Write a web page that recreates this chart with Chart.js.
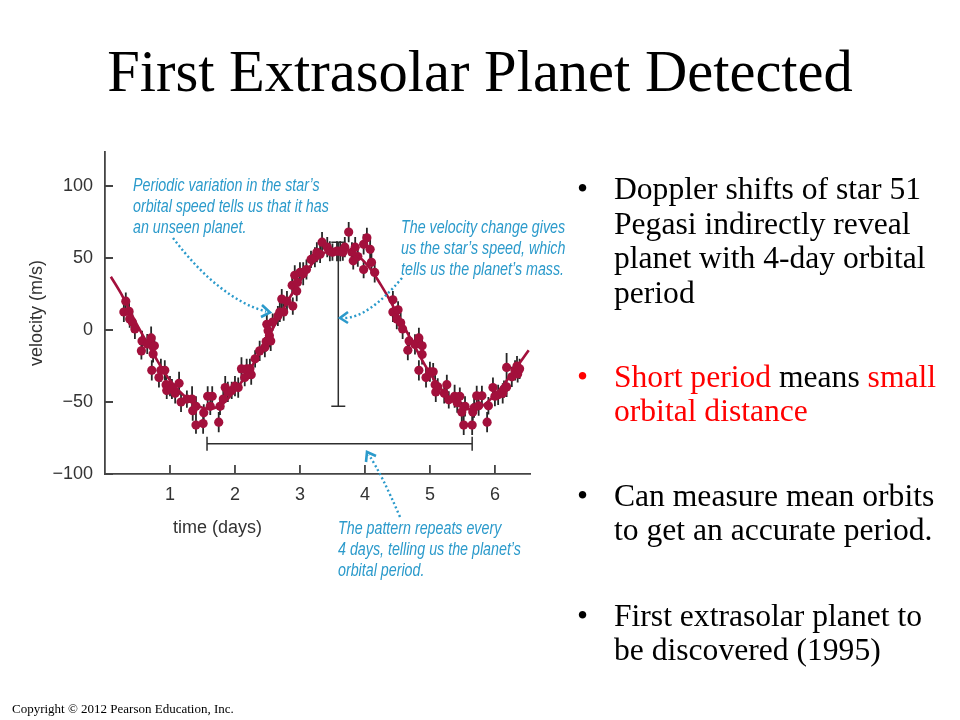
<!DOCTYPE html>
<html>
<head>
<meta charset="utf-8">
<script src="https://cdn.jsdelivr.net/npm/chart.js@4/dist/chart.umd.min.js"></script>
<style>
html,body{margin:0;padding:0;background:#fff;width:960px;height:720px;overflow:hidden;}
#wrap{position:relative;width:960px;height:720px;}
#c{position:absolute;left:0;top:0;}
#arrows{position:absolute;left:0;top:0;pointer-events:none;}
.t{position:absolute;white-space:nowrap;margin:0;}
#title{left:0;width:960px;top:43px;text-align:center;font-family:"Liberation Serif","Times New Roman",serif;font-size:58.5px;line-height:58px;color:#000;}
.bul{font-family:"Liberation Serif","Times New Roman",serif;font-size:31.6px;line-height:34.5px;color:#000;}
.red{color:#ff0000;}
.note{font-family:"Liberation Sans",Arial,sans-serif;font-style:italic;font-size:17.5px;line-height:21px;color:#2b9acb;transform:scaleX(0.815);transform-origin:0 0;}
#xt{font-family:"Liberation Sans",Arial,sans-serif;font-size:18px;line-height:20px;color:#333;}
#copy{left:12px;top:702px;font-family:"Liberation Serif","Times New Roman",serif;font-size:13px;line-height:13px;color:#000;}
</style>
</head>
<body>
<div id="wrap">
<canvas id="c" width="960" height="720"></canvas>
<svg id="arrows" width="960" height="720" viewBox="0 0 960 720">
  <g fill="none" stroke="#2b9acb" stroke-width="2.4">
    <path d="M173,238 Q219.5,299 266,311.5" stroke-dasharray="2 2.6"/>
    <path d="M402,278 Q368,318 344,318" stroke-dasharray="2 2.6"/>
    <path d="M400,517 Q382,475 369,455" stroke-dasharray="2 2.6"/>
    <path d="M262,305 L270,312.5 L261,317" stroke-width="2.6"/>
    <path d="M348,312 L340,318 L348,323" stroke-width="2.6"/>
    <path d="M366,462 L367,452 L376,456" stroke-width="2.6"/>
  </g>
</svg>

<div class="t" id="title">First Extrasolar Planet Detected</div>

<div class="t note" style="left:133px;top:174.5px;">Periodic variation in the star’s<br>orbital speed tells us that it has<br>an unseen planet.</div>
<div class="t note" style="left:401px;top:216.5px;">The velocity change gives<br>us the star’s speed, which<br>tells us the planet’s mass.</div>
<div class="t note" style="left:338px;top:517.5px;">The pattern repeats every<br>4 days, telling us the planet’s<br>orbital period.</div>
<div class="t" id="xt" style="left:173px;top:517px;">time (days)</div>

<div class="t bul" style="left:577px;top:172.4px;">•</div>
<div class="t bul" style="left:614px;top:172.4px;">Doppler shifts of star 51<br>Pegasi indirectly reveal<br>planet with 4-day orbital<br>period</div>

<div class="t bul red" style="left:577px;top:359.7px;">•</div>
<div class="t bul" style="left:614px;top:359.7px;"><span class="red">Short period</span> means <span class="red">small</span><br><span class="red">orbital distance</span></div>

<div class="t bul" style="left:577px;top:478.7px;">•</div>
<div class="t bul" style="left:614px;top:478.7px;">Can measure mean orbits<br>to get an accurate period.</div>

<div class="t bul" style="left:577px;top:598.7px;">•</div>
<div class="t bul" style="left:614px;top:598.7px;">First extrasolar planet to<br>be discovered (1995)</div>

<div class="t" id="copy">Copyright © 2012 Pearson Education, Inc.</div>
</div>

<script>
// ---- data ----
const times = [
  0.29,0.32,0.37,0.38,0.42,0.46,0.56,0.57,0.65,0.71,
  0.72,0.74,0.76,0.83,0.86,0.92,0.94,0.95,1.00,1.03,
  1.08,1.14,1.17,1.26,1.34,1.35,1.40,1.40,1.51,1.52,
  1.58,1.62,1.65,1.75,1.77,1.82,1.85,1.89,1.95,2.00,
  2.05,2.10,2.15,2.18,2.23,2.25,2.31,2.38,2.46,2.48,
  2.49,2.51,2.53,2.55,2.58,2.66,2.69,2.72,2.75,2.80,
  2.88,2.89,2.92,2.95,2.96,3.00,3.05,3.10,3.17,3.23,
  3.26,3.31,3.34,3.42,3.46,3.50,3.57,3.62,3.66,3.69,
  3.75,3.80,3.82,3.85,3.89,3.98,3.98,4.03,4.08,4.10,
  4.15,4.43,4.43,4.49,4.51,4.55,4.58,4.66,4.68,4.77,
  4.83,4.83,4.88,4.88,4.94,5.00,5.05,5.08,5.09,5.12,
  5.22,5.26,5.29,5.38,5.42,5.46,5.49,5.52,5.54,5.65,
  5.66,5.68,5.72,5.75,5.80,5.88,5.90,5.97,6.00,6.05,
  6.12,6.14,6.18,6.18,6.26,6.31,6.34,6.35,6.38
];
const velocity = [
  12.5,20,13,7.6,5.5,0.7,-14.5,-7.6,-9.7,-5.5,
  -28,-16.6,-11,-33,-28,-28,-38,-42,-39,-41,
  -44,-37,-50,-48,-48,-56,-53,-66,-65,-57.5,
  -46,-53,-46,-64,-53,-48,-40,-43,-42,-39,
  -40,-27,-33,-27,-27,-31,-20,-14.5,-12,-8,
  4,-0.5,-4,-7.6,5.5,9.7,12.5,21.5,12.5,20,
  31,16.6,38,27,33,40,39,42,49,50.5,
  54,52.6,61,57.5,54.7,54,54.7,54.7,54,57.5,
  68,54,48,57.5,51,59.5,42,64,56,47,
  40,21,12.5,7.6,14,5,0.7,-14,-7.6,-10,
  -5.5,-28,-11,-17,-33,-29,-29,-38,-43,-39.5,
  -44,-38,-48.5,-46,-50.5,-46,-57,-66,-53,-66,
  -57,-54,-45.7,-52.6,-45.7,-64,-52.6,-40,-46,-45,
  -44,-41,-39.5,-26,-32.5,-28,-25,-30.5,-27
];
const velError = [
  7,6,7,6,7,7,6,7,7,8,
  7,6,7,7,8,7,7,6,7,7,
  7,8,7,6,9,7,7,6,7,6,
  7,6,7,7,6,7,8,7,6,7,
  7,8,6,7,7,7,6,7,7,7,
  7,6,8,7,6,7,7,7,6,7,
  7,6,7,7,6,7,8,7,6,7,
  7,6,7,7,7,6,7,7,6,7,
  7,7,6,7,7,7,6,7,7,8,
  7,6,7,7,6,7,7,7,6,7,
  7,7,6,7,7,7,6,7,7,6,
  7,7,6,8,7,6,7,7,7,7,
  6,7,7,7,7,7,6,7,7,7,
  7,6,7,10,7,7,7,6,7
];
// fitted orbit curve
const fitTimes = [0.09,0.25,0.5,0.75,1.0,1.25,1.5,1.75,2.0,2.25,2.5,2.75,3.0,3.25,3.5,3.75,4.0,4.25,4.5,4.75,5.0,5.25,5.5,5.75,6.0,6.25,6.52];
const fitVelocity = [37,25,3,-17,-35,-47,-54,-53,-42,-26,-6,15,34,49,56,55,47,31,11,-10,-30,-45,-54,-54,-45,-31,-14];
const xTickValues = [1,2,3,4,5,6];
const yTickValues = [-100,-50,0,50,100];
// annotation marks (data units)
const amplitudeBar = {t:3.59, low:-53, high:61};
const periodBar = {v:-79, start:1.57, end:5.65};

const RED = '#a3103c';

const marks = {
  id:'marks',
  beforeDatasetsDraw(chart){
    const {ctx, scales:{x, y}} = chart;
    ctx.save();
    ctx.strokeStyle = '#2e2e2e';
    ctx.lineWidth = 1.5;
    const by = y.getPixelForValue(periodBar.v);
    const bx1 = x.getPixelForValue(periodBar.start), bx2 = x.getPixelForValue(periodBar.end);
    ctx.beginPath();
    ctx.moveTo(bx1, by); ctx.lineTo(bx2, by);
    ctx.moveTo(bx1, by-7); ctx.lineTo(bx1, by+7);
    ctx.moveTo(bx2, by-7); ctx.lineTo(bx2, by+7);
    ctx.stroke();
    const ax = x.getPixelForValue(amplitudeBar.t);
    const ay1 = y.getPixelForValue(amplitudeBar.high), ay2 = y.getPixelForValue(amplitudeBar.low);
    ctx.beginPath();
    ctx.moveTo(ax, ay1); ctx.lineTo(ax, ay2);
    ctx.moveTo(ax-7, ay1); ctx.lineTo(ax+7, ay1);
    ctx.moveTo(ax-7, ay2); ctx.lineTo(ax+7, ay2);
    ctx.stroke();
    ctx.strokeStyle = '#262626';
    ctx.lineWidth = 1.8;
    ctx.beginPath();
    for (let i = 0; i < times.length; i++) {
      const px = x.getPixelForValue(times[i]);
      ctx.moveTo(px, y.getPixelForValue(velocity[i] + velError[i]));
      ctx.lineTo(px, y.getPixelForValue(velocity[i] - velError[i]));
    }
    ctx.stroke();
    ctx.restore();
  },
  afterDraw(chart){
    const {ctx, chartArea, scales:{x, y}} = chart;
    ctx.save();
    ctx.strokeStyle = '#444';
    ctx.lineWidth = 1.8;
    ctx.beginPath();
    yTickValues.forEach(v => {
      const py = y.getPixelForValue(v);
      ctx.moveTo(chartArea.left, py); ctx.lineTo(chartArea.left + 8, py);
    });
    xTickValues.forEach(v => {
      const px = x.getPixelForValue(v);
      ctx.moveTo(px, chartArea.bottom); ctx.lineTo(px, chartArea.bottom - 9);
    });
    ctx.stroke();
    ctx.restore();
  }
};

new Chart(document.getElementById('c'), {
  type: 'scatter',
  data: {
    datasets: [
      {
        type: 'line',
        data: fitTimes.map((t, i) => ({x: t, y: fitVelocity[i]})),
        borderColor: RED,
        borderWidth: 2.6,
        pointRadius: 0,
        tension: 0.4,
        fill: false
      },
      {
        data: times.map((t, i) => ({x: t, y: velocity[i]})),
        backgroundColor: RED,
        borderWidth: 0,
        pointRadius: 4.6
      }
    ]
  },
  options: {
    responsive: false,
    animation: false,
    events: [],
    layout: {padding: {left: 20, top: 152, right: 430, bottom: 206}},
    plugins: {legend: {display: false}, tooltip: {enabled: false}},
    scales: {
      x: {
        type: 'linear', min: 0, max: 6.54,
        afterBuildTicks: axis => { axis.ticks = xTickValues.map(v => ({value: v})); },
        afterFit: axis => { axis.height = 40; axis.paddingLeft = 0; axis.paddingRight = 0; },
        grid: {display: true, drawOnChartArea: false, drawTicks: false},
        border: {display: true, color: '#444', width: 1.8},
        ticks: {padding: 10, color: '#333', font: {family: 'Liberation Sans', size: 18}, maxRotation: 0, autoSkip: false,
                callback: v => String(v)}
      },
      y: {
        type: 'linear', min: -100, max: 123.6,
        afterBuildTicks: axis => { axis.ticks = yTickValues.map(v => ({value: v})); },
        afterFit: axis => { axis.width = 85; axis.paddingTop = 0; axis.paddingBottom = 0; },
        grid: {display: true, drawOnChartArea: false, drawTicks: false},
        border: {display: true, color: '#444', width: 1.8},
        ticks: {padding: 12, color: '#333', font: {family: 'Liberation Sans', size: 18}, autoSkip: false,
                callback: v => v < 0 ? '\u2212' + Math.abs(v) : String(v)},
        title: {display: true, text: 'velocity (m/s)', color: '#333', font: {family: 'Liberation Sans', size: 18}, padding: {top: 6, bottom: 0}}
      }
    }
  },
  plugins: [marks]
});
</script>
</body>
</html>
